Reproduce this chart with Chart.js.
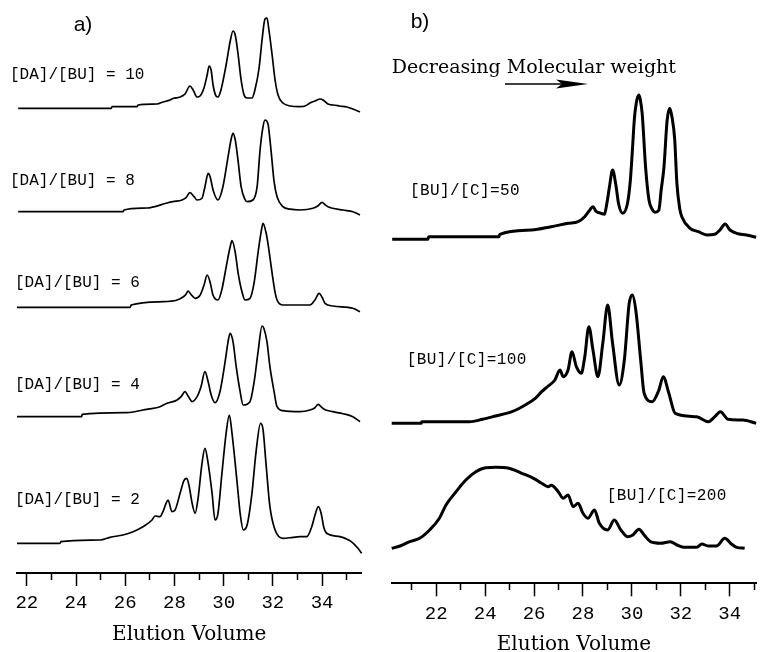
<!DOCTYPE html>
<html><head><meta charset="utf-8">
<script src="https://cdn.jsdelivr.net/npm/chart.js@4.4.1/dist/chart.umd.min.js"></script>
<style>
html,body{margin:0;padding:0;background:#fff;overflow:hidden;width:760px;height:652px;}
#wrapA{position:absolute;left:0;top:0;width:380px;height:652px;}
#wrapB{position:absolute;left:380px;top:0;width:380px;height:664px;}
</style></head><body>
<div id="wrapA"><canvas id="ca" width="380" height="652"></canvas></div>
<div id="wrapB"><canvas id="cb" width="380" height="664"></canvas></div>
<script>
// ---------- DATA (elution volume, detector signal above the trace's own baseline) ----------
const labelsA = ['[DA]/[BU] = 10', '[DA]/[BU] = 8', '[DA]/[BU] = 6', '[DA]/[BU] = 4', '[DA]/[BU] = 2'];
const labelsB = ['[BU]/[C]=50', '[BU]/[C]=100', '[BU]/[C]=200'];
const tickLabels = ['22', '24', '26', '28', '30', '32', '34'];

const traceDA10 = [[21.65,0],[25.43,0],[25.47,1.6],[26.48,1.6],[26.52,3.3],[27.29,4.3],[27.54,6.3],[27.82,8.3],[27.94,9.8],[28.23,11.3],[28.43,14.3],[28.63,22.3],[28.76,18.3],[28.92,11.3],[29.04,12.3],[29.2,20.3],[29.33,33.3],[29.41,42.3],[29.49,38.3],[29.57,23.3],[29.69,12.3],[29.77,11.3],[29.89,18.3],[30.1,43.3],[30.26,66.3],[30.38,77.3],[30.47,73.3],[30.59,53.3],[30.71,28.3],[30.83,13.3],[30.95,10.3],[31.15,10.3],[31.27,18.3],[31.44,40.3],[31.56,68.3],[31.68,89.3],[31.76,90.3],[31.84,78.3],[31.97,53.3],[32.09,28.3],[32.21,13.3],[32.41,5.3],[32.7,2.3],[33.1,1.6],[33.31,2.3],[33.51,5.3],[33.71,7.3],[33.92,9.3],[34.04,8.3],[34.24,4.3],[34.44,3.3],[34.72,2.3],[35.01,1.3],[35.25,-0.7],[35.54,-3.7]];
const traceDA8 = [[21.65,0],[25.91,0],[25.95,1.7],[26.89,3.7],[27.7,8.7],[27.94,10],[28.31,11.7],[28.47,14],[28.63,19],[28.8,15],[28.92,11.7],[29.12,13.5],[29.24,25],[29.37,38.4],[29.45,35],[29.57,21.7],[29.77,11.7],[29.97,25],[30.18,55],[30.3,72],[30.38,78.4],[30.47,72],[30.59,50],[30.71,25],[30.87,12],[30.95,10],[31.19,11.7],[31.36,25],[31.48,61.7],[31.6,85],[31.68,91.7],[31.8,88],[31.93,60],[32.05,30],[32.17,15],[32.41,5],[32.7,2.5],[33.1,1.7],[33.63,3.4],[33.84,6],[34.0,9.4],[34.12,7],[34.24,5],[34.85,1.7],[35.25,0],[35.54,-3.3]];
const traceDA6 = [[21.6,0],[26.2,0],[26.24,2.3],[27.54,5.6],[28.11,7.3],[28.35,10.3],[28.47,13],[28.55,16.3],[28.67,13],[28.84,9],[29.04,12],[29.2,22],[29.33,32.3],[29.45,25],[29.57,12],[29.77,7.3],[29.93,18],[30.1,40],[30.26,60],[30.34,66.6],[30.47,55],[30.59,34],[30.75,15],[30.87,7.3],[31.07,9],[31.24,25],[31.4,55],[31.52,75],[31.6,84],[31.72,75],[31.8,64],[31.97,34],[32.09,15],[32.17,7.3],[32.41,2.3],[33.51,2.3],[33.71,7.3],[33.88,14],[34.0,10],[34.12,4],[34.44,1.3],[35.25,-1],[35.54,-4.4]];
const traceDA4 = [[21.6,0],[24.23,0],[24.25,2.4],[26.07,4],[26.72,6.7],[27.41,10],[27.7,13.4],[28.11,16.7],[28.27,20],[28.43,25],[28.55,21],[28.72,15],[28.92,20],[29.08,30],[29.24,45],[29.37,35],[29.49,22],[29.65,14],[29.85,25],[30.06,55],[30.18,75],[30.26,83.4],[30.38,75],[30.51,50],[30.67,25],[30.79,11.7],[31.07,15],[31.24,35],[31.4,65],[31.56,90.7],[31.64,88],[31.76,75],[31.88,50],[32.05,25],[32.17,10],[32.41,6],[33.1,5],[33.51,6.7],[33.71,9],[33.84,12.4],[34.0,9],[34.12,7],[34.44,5],[34.85,3],[35.25,0],[35.54,-5]];
const traceDA2 = [[21.6,0],[23.35,0],[23.39,1.6],[24.98,3.3],[25.38,6],[25.91,8.3],[26.32,11.6],[26.72,16.6],[27.09,23.3],[27.21,27.3],[27.41,26.6],[27.54,32],[27.66,40],[27.74,43.3],[27.9,31.6],[28.02,33],[28.23,50],[28.39,63],[28.5,65],[28.59,58],[28.72,40],[28.84,30],[28.96,45],[29.12,80],[29.24,95],[29.37,80],[29.53,50],[29.65,23.3],[29.77,30],[29.93,70],[30.1,110],[30.23,128.3],[30.34,110],[30.55,60],[30.67,30],[30.8,13.3],[30.95,18],[31.15,50],[31.31,90],[31.5,120],[31.6,114],[31.72,80],[31.88,36.6],[32.09,13.3],[32.41,5],[32.82,6],[33.1,6.6],[33.38,6.6],[33.58,16.6],[33.71,28],[33.85,36.6],[33.96,30],[34.08,15],[34.19,10],[34.73,6.6],[35.06,3.5],[35.27,0],[35.42,-4],[35.61,-10]];

const traceC50 = [[20.2,0],[21.66,0],[21.69,2.6],[24.56,2.6],[24.6,5],[25.9,9.3],[26.7,12.6],[27.39,16],[27.8,17.6],[28.07,22.6],[28.24,28],[28.41,32.6],[28.53,28],[28.61,27],[28.88,25],[28.97,35],[29.08,52],[29.21,69.3],[29.34,55],[29.46,35],[29.62,26],[29.82,36],[29.94,60],[30.02,89],[30.1,120],[30.2,139],[30.29,144.3],[30.34,140],[30.42,126],[30.56,72],[30.7,39],[30.83,30],[30.95,27],[31.1,29],[31.2,50],[31.31,72],[31.44,119],[31.55,131],[31.64,122],[31.75,100],[31.84,56],[31.96,30],[32.04,22.6],[32.38,11],[32.72,7.6],[33.06,4.3],[33.39,5],[33.6,9.3],[33.81,15.3],[34.01,9.3],[34.28,6],[34.68,4.3],[35.08,2]];
const traceC100 = [[20.18,0],[21.39,0],[21.41,1.6],[23.35,1.6],[23.89,4],[24.43,7.3],[25.1,11.6],[25.64,18.3],[26.05,25],[26.31,31.6],[26.58,37.3],[26.85,43.3],[27.06,53.3],[27.19,46.6],[27.39,53.3],[27.55,71.6],[27.73,56.6],[27.93,50],[28.07,66],[28.24,96.6],[28.41,73],[28.61,46.6],[28.81,80],[29.01,118.3],[29.21,80],[29.48,38.3],[29.69,63],[29.89,120],[30.02,128.3],[30.16,113],[30.36,63],[30.5,30],[30.83,21.6],[31.1,33],[31.28,46.6],[31.51,30],[31.77,10],[32.65,6.6],[33.12,1.6],[33.39,6.6],[33.62,11.6],[33.93,4],[34.54,3.3],[35.08,0]];
const traceC200 = [[20.18,0],[20.52,2.3],[20.92,6.6],[21.32,10],[21.73,18.3],[22.13,30],[22.4,43.3],[22.81,56.6],[23.21,68.3],[23.62,76.6],[24.02,80.6],[24.43,81],[24.97,80],[25.5,75],[25.98,70],[26.31,65],[26.58,61.6],[26.7,63],[26.99,56.6],[27.19,50],[27.39,53.3],[27.6,41.6],[27.8,45],[28.0,35],[28.2,30],[28.47,38.3],[28.67,25],[29.01,18.3],[29.28,28.3],[29.55,18.3],[29.82,11.6],[30.02,13],[30.29,19],[30.5,13.3],[30.76,6.6],[31.17,5],[31.57,6.6],[31.84,3.3],[32.11,1],[32.65,1],[32.86,4.3],[33.12,2.3],[33.46,2.3],[33.8,10],[34.07,4.3],[34.28,1],[34.61,0]];

// vertical stacking offsets of each trace's baseline (signal units)
const offsetsA = [464.7, 361.3, 265.7, 156.3, 29.7];
const offsetsB = [344, 160, 35];

// ---------- build ----------
function makeDatasets(traces, offsets, lw) {
  return traces.map((t, i) => ({
    data: t.map(p => ({x: p[0], y: p[1] + offsets[i]})),
    borderColor: '#000', borderWidth: lw, pointRadius: 0, fill: false,
    cubicInterpolationMode: 'monotone', clip: false
  }));
}

function annotPlugin(draws) {
  return { id: 'annot', afterDraw(chart) { const c = chart.ctx; c.save(); draws(c); c.restore(); } };
}

function makeChart(canvas, o) {
  return new Chart(canvas, {
    type: 'line',
    data: { datasets: makeDatasets(o.traces, o.offsets, o.lw) },
    options: {
      responsive: false, animation: false, devicePixelRatio: 1,
      layout: { padding: { left: o.padL, right: o.padR, top: 0, bottom: 0 } },
      plugins: { legend: { display: false }, tooltip: { enabled: false } },
      scales: {
        x: {
          type: 'linear', position: 'bottom', min: o.xmin, max: o.xmax,
          border: { display: true, color: '#000', width: 2 },
          grid: {
            display: true, drawOnChartArea: false, drawTicks: true, tickLength: 13,
            tickColor: '#000', tickWidth: 1.5,
            tickBorderDash: (ctx) => (ctx.tick && Math.round(ctx.tick.value) % 2 !== 0) ? [6, 40] : []
          },
          ticks: {
            stepSize: 1, autoSkip: false, maxRotation: 0, minRotation: 0, includeBounds: false,
            padding: o.tickPad, color: '#000',
            font: { family: 'Liberation Mono', size: 19 },
            callback: (v) => { const s = String(Math.round(v)); return tickLabels.includes(s) ? s : ''; }
          },
          title: { display: true, text: 'Elution Volume', color: '#000',
                   font: { family: 'DejaVu Serif', size: 20 }, padding: { top: 0, bottom: o.titlePad } },
          afterFit: (s) => { s.height = o.axisH; }
        },
        y: { display: false, min: 0, max: o.ymax }
      }
    },
    plugins: [annotPlugin(o.draw)]
  });
}

makeChart(document.getElementById('ca'), {
  traces: [traceDA10, traceDA8, traceDA6, traceDA4, traceDA2], offsets: offsetsA, lw: 1.7,
  xmin: 21.59, xmax: 35.61, ymax: 573, padL: 16.7, padR: 18.3, axisH: 79, tickPad: 5.6, titlePad: 5,
  draw: (c) => {
    c.fillStyle = '#000';
    c.textBaseline = 'middle';
    c.textAlign = 'center';
    c.font = '21px "Liberation Sans"';
    c.fillText('a)', 83, 25);
    c.textAlign = 'left';
    c.font = '16px "Liberation Mono"';
    const pos = [[10, 75], [10, 181], [15, 283], [15, 385], [15, 500]];
    labelsA.forEach((t, i) => c.fillText(t, pos[i][0], pos[i][1]));
  }
});

makeChart(document.getElementById('cb'), {
  traces: [traceC50, traceC100, traceC200], offsets: offsetsB, lw: 3,
  xmin: 20.18, xmax: 35.08, ymax: 583.3, padL: 11.7, padR: 0, axisH: 80.7, tickPad: 5.8, titlePad: 7,
  draw: (c) => {
    c.fillStyle = '#000'; c.strokeStyle = '#000';
    c.textBaseline = 'middle';
    c.textAlign = 'center';
    c.font = '21px "Liberation Sans"';
    c.fillText('b)', 40, 22);
    c.textAlign = 'left';
    c.font = '19px "DejaVu Serif"';
    c.fillText('Decreasing Molecular weight', 11.7, 68);
    // arrow
    c.lineWidth = 1.5;
    c.beginPath(); c.moveTo(125, 84); c.lineTo(185, 84); c.stroke();
    c.beginPath(); c.moveTo(176, 79.5); c.lineTo(208, 84); c.lineTo(176, 88.5); c.lineTo(182, 84); c.closePath(); c.fill();
    c.font = '16px "Liberation Mono"';
    c.letterSpacing = '0.4px';
    const pos = [[30, 191], [26.7, 360], [226.7, 496]];
    labelsB.forEach((t, i) => c.fillText(t, pos[i][0], pos[i][1]));
  }
});
</script>
</body></html>
